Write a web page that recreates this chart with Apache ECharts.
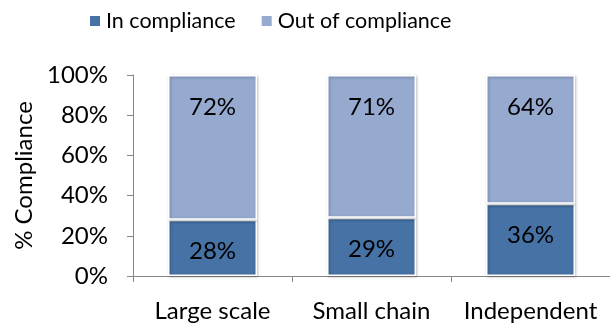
<!DOCTYPE html>
<html>
<head>
<meta charset="utf-8">
<script src="https://cdn.jsdelivr.net/npm/echarts@6/dist/echarts.min.js"></script>
<style>
  html, body { margin: 0; padding: 0; background: #fff; }
  #chart { width: 610px; height: 323px; }
</style>
</head>
<body>
<div id="chart"></div>
<script>
// Store types and the share of stores in / out of compliance (%)
const categories = ['Large scale', 'Small chain', 'Independent'];
const inCompliance = [28, 29, 36];
const outOfCompliance = [72, 71, 64];
const yTicks = [0, 20, 40, 60, 80, 100];

const FONT = 'Lato';
const chart = echarts.init(document.getElementById('chart'));

// Value labels sit near the top edge of each segment
const labelStyle = {
  show: true,
  position: 'insideTop',
  distance: 19,
  formatter: p => p.value + '%',
  color: '#000',
  fontFamily: FONT,
  fontSize: 24,
  lineHeight: 26
};

const barShadow = {
  borderColor: '#fff',
  borderWidth: 1.5,
  shadowColor: 'rgba(0,0,0,0.28)',
  shadowBlur: 3,
  shadowOffsetX: 1,
  shadowOffsetY: 1
};

chart.setOption({
  animation: false,
  textStyle: { fontFamily: FONT },
  legend: {
    top: 5,
    left: 83,
    itemWidth: 12,
    itemHeight: 12,
    itemGap: 24,
    icon: 'rect',
    textStyle: { fontFamily: FONT, fontSize: 21.5, color: '#000' },
    data: ['In compliance', 'Out of compliance']
  },
  grid: { left: 133, top: 75, width: 483, height: 201, containLabel: false },
  xAxis: {
    type: 'category',
    data: categories,
    axisLine: { lineStyle: { color: '#868686', width: 1 } },
    axisTick: { show: true, length: 6, alignWithLabel: false, lineStyle: { color: '#868686' } },
    axisLabel: { color: '#000', fontFamily: FONT, fontSize: 24, margin: 23, interval: 0, hideOverlap: false }
  },
  yAxis: {
    type: 'value',
    min: 0,
    max: 100,
    interval: 20,
    name: '% Compliance',
    nameLocation: 'middle',
    nameGap: 92,
    nameTextStyle: { color: '#000', fontFamily: FONT, fontSize: 24 },
    axisLine: { show: true, lineStyle: { color: '#868686', width: 1 } },
    axisTick: { show: true, length: 6, lineStyle: { color: '#868686' } },
    splitLine: { show: false },
    axisLabel: {
      color: '#000', fontFamily: FONT, fontSize: 24, margin: 25,
      formatter: v => (yTicks.includes(v) ? v + '%' : '')
    }
  },
  series: [
    {
      name: 'In compliance',
      type: 'bar',
      stack: 'total',
      barWidth: 89,
      data: inCompliance,
      itemStyle: Object.assign({ color: '#4672A6' }, barShadow),
      label: labelStyle
    },
    {
      name: 'Out of compliance',
      type: 'bar',
      stack: 'total',
      barWidth: 89,
      data: outOfCompliance,
      itemStyle: Object.assign({ color: '#96AAD0' }, barShadow),
      label: labelStyle
    }
  ]
});
</script>
</body>
</html>
